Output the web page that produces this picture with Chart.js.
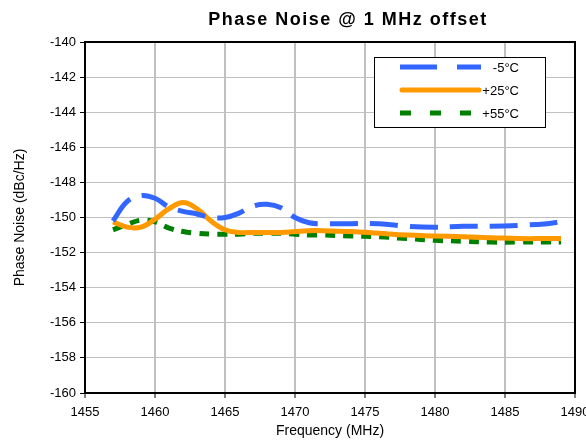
<!DOCTYPE html>
<html>
<head>
<meta charset="utf-8">
<script src="https://cdn.jsdelivr.net/npm/chart.js@4.4.0/dist/chart.umd.min.js"></script>
<style>
  html, body { margin: 0; padding: 0; background: #fff; }
  #wrap { width: 586px; height: 440px; }
</style>
</head>
<body>
<div id="wrap"><canvas id="noiseChart" width="586" height="440"></canvas></div>
<script>
// Données
const freqs = [1457, 1458, 1459, 1460, 1461, 1462, 1463, 1464, 1465, 1466, 1467, 1468, 1469, 1470, 1471, 1472, 1474, 1476, 1478, 1480, 1482, 1484, 1486, 1488, 1489];
const minus5 = [-150.2, -149.1, -148.75, -148.9, -149.4, -149.65, -149.8, -150.0, -150.0, -149.75, -149.35, -149.25, -149.45, -150.0, -150.3, -150.35, -150.35, -150.35, -150.5, -150.55, -150.5, -150.5, -150.45, -150.35, -150.25];
const plus25 = [-150.25, -150.55, -150.55, -150.1, -149.5, -149.15, -149.5, -150.2, -150.7, -150.85, -150.85, -150.85, -150.85, -150.8, -150.75, -150.75, -150.8, -150.9, -151.0, -151.05, -151.1, -151.15, -151.2, -151.2, -151.2];
const plus55 = [-150.7, -150.4, -150.15, -150.25, -150.6, -150.8, -150.9, -150.95, -150.95, -150.95, -150.9, -150.9, -150.9, -150.95, -151.0, -151.0, -151.05, -151.1, -151.2, -151.3, -151.35, -151.4, -151.4, -151.4, -151.4];
const seriesNames = ['-5°C', '+25°C', '+55°C'];
const yTicks = [-160, -158, -156, -154, -152, -150, -148, -146, -144, -142, -140];

const toPoints = arr => freqs.map((f, i) => ({ x: f, y: arr[i] }));

// Titre et légende dessinés à la main
const extras = {
  id: 'extras',
  afterDraw(chart) {
    const c = chart.ctx;
    const a = chart.chartArea;
    c.save();
    // cadre noir
    c.strokeStyle = '#000';
    c.lineWidth = 2;
    c.strokeRect(a.left, a.top, a.right - a.left, a.bottom - a.top);

    // titre
    c.fillStyle = '#000';
    c.font = 'bold 18px "Liberation Sans", Arial, sans-serif';
    c.letterSpacing = '1.5px';
    c.textAlign = 'center';
    c.textBaseline = 'middle';
    c.fillText('Phase Noise @ 1 MHz offset', 348, 20);
    c.letterSpacing = '0px';

    // légende
    c.fillStyle = '#fff';
    c.fillRect(374, 57, 171, 70);
    c.lineWidth = 1;
    c.strokeStyle = '#000';
    c.strokeRect(374.5, 57.5, 171, 70);
    const rows = [67, 90, 113];
    const dashes = [[37, 20], [], [11, 19]];
    chart.data.datasets.forEach((ds, i) => {
      c.beginPath();
      c.setLineDash(dashes[i]);
      c.lineCap = i === 1 ? 'round' : 'butt';
      c.strokeStyle = ds.borderColor;
      c.lineWidth = 5;
      c.moveTo(i === 1 ? 402 : 400, rows[i]);
      c.lineTo(i === 1 ? 479 : 481, rows[i]);
      c.stroke();
      c.setLineDash([]);
      c.fillStyle = '#000';
      c.font = '13px "Liberation Sans", Arial, sans-serif';
      c.textAlign = 'right';
      c.fillText(seriesNames[i], 519, rows[i] + 1);
    });
    c.restore();
  }
};

const ctx = document.getElementById('noiseChart').getContext('2d');
new Chart(ctx, {
  type: 'line',
  data: {
    datasets: [{
      label: seriesNames[0],
      data: toPoints(minus5),
      borderColor: '#3366FF',
      borderWidth: 5,
      borderDash: [28, 12],
      pointRadius: 0,
      tension: 0.4
    }, {
      label: seriesNames[1],
      data: toPoints(plus25),
      borderColor: '#FF9900',
      borderWidth: 5,
      pointRadius: 0,
      tension: 0.4
    }, {
      label: seriesNames[2],
      data: toPoints(plus55),
      borderColor: '#008000',
      borderWidth: 5,
      borderDash: [10, 8],
      pointRadius: 0,
      tension: 0.4
    }]
  },
  plugins: [extras],
  options: {
    responsive: false,
    animation: false,
    layout: {
      padding: { top: 42, right: 11, left: 0, bottom: 0 }
    },
    plugins: {
      legend: { display: false },
      title: { display: false },
      tooltip: { enabled: false }
    },
    scales: {
      x: {
        type: 'linear',
        min: 1455,
        max: 1490,
        afterFit: scale => {
          scale.height = 47;
          scale.paddingLeft = 0;
          scale.paddingRight = 0;
        },
        grid: {
          color: '#c0c0c0',
          lineWidth: 2,
          tickColor: '#000',
          tickLength: 5,
          tickWidth: 1
        },
        border: { color: '#000', width: 2 },
        ticks: {
          stepSize: 5,
          color: '#000',
          padding: 7,
          maxRotation: 0,
          autoSkip: false,
          font: { family: '"Liberation Sans", Arial', size: 13 },
          callback: value => String(value)
        },
        title: {
          display: true,
          text: 'Frequency (MHz)',
          color: '#000',
          padding: { top: 0, bottom: 0 },
          font: { family: '"Liberation Sans", Arial', size: 14 }
        }
      },
      y: {
        min: -160,
        max: -140,
        afterFit: scale => {
          scale.width = 85;
          scale.paddingTop = 0;
          scale.paddingBottom = 0;
        },
        afterBuildTicks: scale => { scale.ticks = yTicks.map(v => ({ value: v })); },
        grid: {
          color: '#c0c0c0',
          lineWidth: 1,
          tickColor: '#000',
          tickLength: 5,
          tickWidth: 1
        },
        border: { color: '#000', width: 2 },
        ticks: {
          color: '#000',
          padding: 4,
          font: { family: '"Liberation Sans", Arial', size: 13 }
        },
        title: {
          display: true,
          text: 'Phase Noise (dBc/Hz)',
          color: '#000',
          padding: { top: 12, bottom: 0 },
          font: { family: '"Liberation Sans", Arial', size: 14 }
        }
      }
    }
  }
});
</script>
</body>
</html>
